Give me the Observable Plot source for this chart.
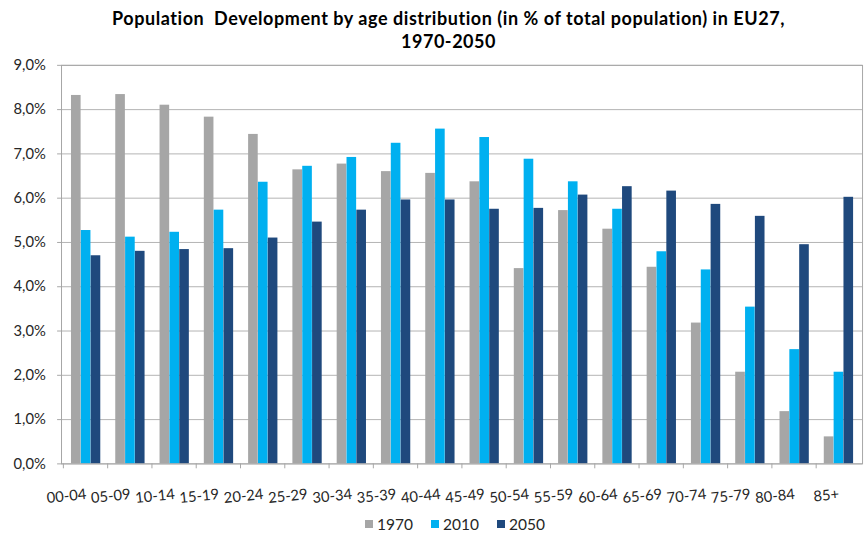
<!DOCTYPE html>
<html><head><meta charset="utf-8">
<script src="https://cdn.jsdelivr.net/npm/d3@7"></script>
<script src="https://cdn.jsdelivr.net/npm/@observablehq/plot@0.6"></script>
<style>
html,body{margin:0;padding:0;overflow:hidden;background:#fff;}
#wrap{position:relative;width:866px;height:533px;overflow:hidden;background:#fff}
#title{position:absolute;left:0;top:7px;width:897px;text-align:center;font-family:Lato;font-weight:bold;font-size:18px;letter-spacing:0.55px;line-height:23px;color:#000}
#chart{position:absolute;left:0;top:55px}
#legend{position:absolute;top:514px;left:365px;height:20px;display:flex;align-items:center;font-family:Lato;font-size:15.5px;color:#262626}
#legend .sw{width:8px;height:8px;display:inline-block;margin-right:4px}
#legend .it{display:flex;align-items:center;margin-right:18px}
</style>
</head><body>
<div id="wrap">
  <div id="title">Population&nbsp; Development by age distribution (in % of total population) in EU27,<br>1970-2050</div>
  <div id="chart"></div>
  <div id="legend"></div>
</div>
<script>
const ages = ["00-04","05-09","10-14","15-19","20-24","25-29","30-34","35-39","40-44","45-49","50-54","55-59","60-64","65-69","70-74","75-79","80-84","85+"];
const years = ["1970","2010","2050"];
const v1970 = [8.32,8.34,8.10,7.83,7.44,6.64,6.77,6.60,6.56,6.37,4.41,5.72,5.30,4.44,3.18,2.07,1.18,0.61];
const v2010 = [5.27,5.12,5.23,5.73,6.36,6.72,6.92,7.24,7.56,7.37,6.88,6.37,5.75,4.79,4.38,3.54,2.58,2.07];
const v2050 = [4.70,4.80,4.84,4.86,5.10,5.46,5.73,5.96,5.96,5.75,5.77,6.07,6.26,6.16,5.86,5.59,4.95,6.02];
const yTicks = [0,1,2,3,4,5,6,7,8,9];
const colors = ["#A6A6A6","#00B0F0","#1F497D"];

const series = [v1970, v2010, v2050];
const rows = [];
years.forEach((yr, j) => ages.forEach((a, i) => rows.push({age: a, year: yr, value: series[j][i]})));

const barW = 10;
const width = 880, mL = 62, mR = 4;
const band = (width - mL - mR) / ages.length;
const inset = (band - barW) / 2;

const chart = Plot.plot({
  width, height: 450,
  marginLeft: mL, marginRight: mR, marginTop: 10, marginBottom: 35,
  style: {fontFamily: "Lato", fontSize: "15px", color: "#262626", background: "#fff", overflow: "visible"},
  x: {domain: ages, padding: 0, axis: null, label: null},
  y: {domain: [0, 9], axis: null, label: null},
  color: {domain: years, range: colors},
  marks: [
    Plot.gridY(yTicks, {stroke: "#b3b3b3", strokeOpacity: 1}),
    ...years.map((yr, j) => Plot.barY(rows.filter(r => r.year === yr), {
      x: "age", y: "value", fill: "year", insetLeft: inset, insetRight: inset, dx: (j - 1) * barW + 0.5
    })),
    Plot.frame({stroke: "#a6a6a6"}),
    Plot.axisY(yTicks, {tickSize: 4, tickPadding: 12, stroke: "#a6a6a6", label: null, tickFormat: d => d.toFixed(1).replace(".", ",") + "%"}),
    Plot.axisX({tickSize: 5, tickFormat: () => "", dx: -band / 2, stroke: "#a6a6a6", label: null}),
    Plot.axisX({tickSize: 0, tickPadding: 14, tickRotate: -6, textAnchor: "end", dy: 11, label: null})
  ]
});
document.getElementById("chart").appendChild(chart);

const leg = document.getElementById("legend");
years.forEach((yr, j) => {
  const it = document.createElement("span"); it.className = "it";
  const sw = document.createElement("span"); sw.className = "sw"; sw.style.background = colors[j];
  it.appendChild(sw); it.appendChild(document.createTextNode(yr));
  leg.appendChild(it);
});
</script>
</body></html>
